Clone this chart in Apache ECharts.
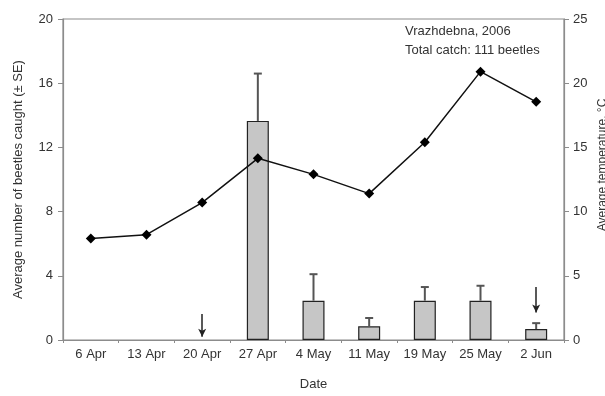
<!DOCTYPE html>
<html>
<head>
<meta charset="utf-8">
<script src="https://cdn.jsdelivr.net/npm/echarts@6/dist/echarts.min.js"></script>
<style>html,body{margin:0;padding:0;background:#fff}#c{width:605px;height:396px}</style>
</head>
<body>
<div id="c"></div>
<script>
var categories = ['6 Apr','13 Apr','20 Apr','27 Apr','4 May','11 May','19 May','25 May','2 Jun'];
var beetleMeans = [null, null, null, 13.65, 2.45, 0.85, 2.45, 2.45, 0.68];
var beetleUpperSE = [null, null, null, 16.6, 4.1, 1.37, 3.3, 3.38, 1.05];
var temperatures = [7.9, 8.2, 10.7, 14.15, 12.9, 11.4, 15.4, 20.9, 18.55];
var leftTicks = [0, 4, 8, 12, 16, 20];
var rightTicks = [0, 5, 10, 15, 20, 25];
var arrowCats = ['20 Apr', '2 Jun'];
var arrowFrom = [1.62, 3.3];
var arrowTo = [0.2, 1.72];

var FONT = 'Liberation Sans, Arial, sans-serif';
var TXT = '#333';
var AX = '#8c8c8c';

var errData = [];
for (var i = 0; i < categories.length; i++) {
  if (beetleMeans[i] != null) errData.push([i, beetleMeans[i], beetleUpperSE[i]]);
}
var arrowLines = arrowCats.map(function (c, k) {
  return [{ coord: [c, arrowFrom[k]] }, { coord: [c, arrowTo[k]] }];
});

var chart = echarts.init(document.getElementById('c'), null, { renderer: 'canvas' });
chart.setOption({
  animation: false,
  backgroundColor: '#fff',
  textStyle: { fontFamily: FONT },
  grid: { left: 63, right: 41, top: 19, bottom: 56, show: true, borderColor: AX, borderWidth: 1.2, backgroundColor: 'transparent' },
  xAxis: {
    type: 'category',
    data: categories,
    name: 'Date',
    nameLocation: 'middle',
    nameGap: 38,
    nameTextStyle: { fontFamily: FONT, fontSize: 13, color: TXT },
    axisLine: { lineStyle: { color: AX, width: 1.2 } },
    axisTick: { show: true, length: 3, lineStyle: { color: AX } },
    axisLabel: { fontFamily: FONT, fontSize: 13, color: TXT, margin: 8 },
    splitLine: { show: false }
  },
  yAxis: [{
    type: 'value',
    min: 0, max: 20, interval: 4,
    name: 'Average number of beetles caught (± SE)',
    nameLocation: 'middle',
    nameGap: 38,
    nameTextStyle: { fontFamily: FONT, fontSize: 13, color: TXT },
    axisLine: { show: true, lineStyle: { color: AX, width: 1.2 } },
    axisTick: { show: true, length: 5, lineStyle: { color: AX } },
    axisLabel: { fontFamily: FONT, fontSize: 13, color: TXT, margin: 10 },
    splitLine: { show: false }
  }, {
    type: 'value',
    min: 0, max: 25, interval: 5,
    position: 'right',
    axisLine: { show: true, lineStyle: { color: AX, width: 1.2 } },
    axisTick: { show: true, length: 5, lineStyle: { color: AX } },
    axisLabel: { fontFamily: FONT, fontSize: 13, color: TXT, margin: 9 },
    splitLine: { show: false }
  }],
  graphic: [
    { type: 'text', left: 405, top: 25, style: { text: 'Vrazhdebna, 2006', font: '13px ' + FONT, fill: TXT } },
    { type: 'text', left: 405, top: 44, style: { text: 'Total catch: 111 beetles', font: '13px ' + FONT, fill: TXT } },
    { type: 'text', x: 597, y: 165, rotation: Math.PI / 2, style: { text: 'Average temperature, °C', font: '12px ' + FONT, fill: TXT, align: 'center', verticalAlign: 'top' } }
  ],
  series: [{
    type: 'bar',
    data: beetleMeans,
    barWidth: 22,
    itemStyle: { color: '#c6c6c6', borderColor: '#222', borderWidth: 1.2 },
    markLine: {
      silent: true,
      symbol: ['none', 'arrow'],
      symbolSize: [6, 8],
      label: { show: false },
      lineStyle: { color: '#222', width: 1.5, type: 'solid' },
      data: arrowLines
    },
    z: 2
  }, {
    type: 'custom',
    data: errData,
    renderItem: function (params, api) {
      var x = api.value(0);
      var b = api.coord([x, api.value(1)]);
      var t = api.coord([x, api.value(2)]);
      return {
        type: 'group',
        children: [
          { type: 'line', shape: { x1: b[0], y1: b[1], x2: t[0], y2: t[1] }, style: { stroke: '#555', lineWidth: 2 } },
          { type: 'line', shape: { x1: t[0] - 4, y1: t[1], x2: t[0] + 4, y2: t[1] }, style: { stroke: '#555', lineWidth: 2 } }
        ]
      };
    },
    z: 3
  }, {
    type: 'line',
    yAxisIndex: 1,
    data: temperatures,
    symbol: 'diamond',
    symbolSize: 10,
    lineStyle: { color: '#111', width: 1.5 },
    itemStyle: { color: '#000' },
    z: 4
  }]
});
</script>
</body>
</html>
